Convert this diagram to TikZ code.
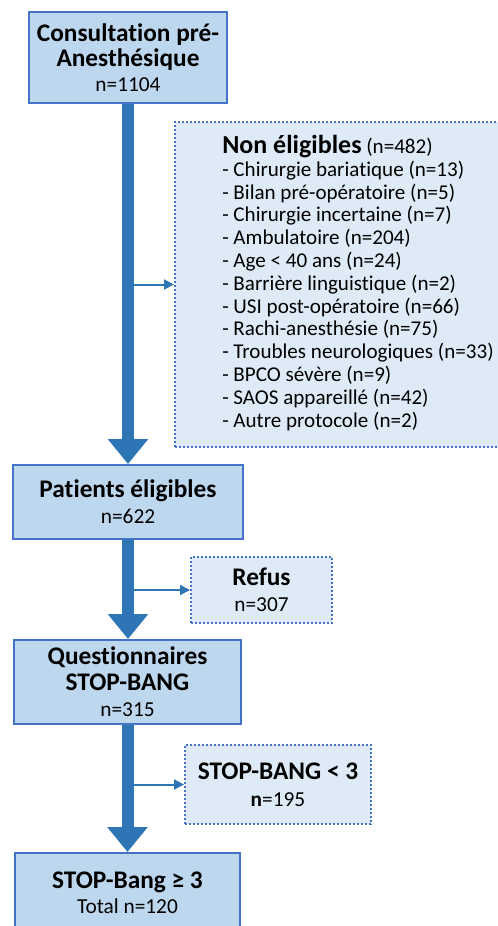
\documentclass[tikz,border=0pt]{standalone}
\usepackage{fontspec}
\setmainfont{Carlito}[Ligatures=NoCommon]
\usetikzlibrary{arrows.meta,positioning}
\definecolor{boxfill}{HTML}{BDD7EE}
\definecolor{boxline}{HTML}{4472C4}
\definecolor{exfill}{HTML}{DEEBF7}
\definecolor{flow}{HTML}{2E75B6}
\newcommand{\ttlfont}{\fontsize{19}{19.5}\selectfont\bfseries}
\newcommand{\nfont}{\fontsize{16}{19.5}\selectfont}
\newcommand{\lstfont}{\fontsize{15.8}{17.1}\selectfont}
\tikzset{
  mainbox/.style={draw=boxline,fill=boxfill,line width=1.5pt,align=center,inner sep=0pt,font=\nfont},
  exbox/.style={draw=boxline,fill=exfill,line width=1.5pt,dash pattern=on 1.5pt off 1.5pt,inner sep=0pt,align=center,font=\nfont},
  bigflow/.style={draw=flow,line width=9pt,-{Triangle[length=18.75pt,width=29.25pt]}},
  sideflow/.style={draw=flow,line width=1.5pt,-{Triangle[length=7.5pt,width=7.5pt]}}
}

\begin{document}
\begin{tikzpicture}[x=0.75pt,y=-0.75pt]
\useasboundingbox (0,0) rectangle (498,926);
% main column
\node[mainbox,minimum width=148.5pt,minimum height=68.25pt,font=\fontsize{16}{18.75}\selectfont] (cpa) at (128,57.5)
  {{\ttlfont Consultation pré-}\\{\ttlfont Anesthésique}\\n=1104};
\node[mainbox,minimum width=172.5pt,minimum height=55.5pt] (elig) at (128,502)
  {{\ttlfont Patients éligibles}\\n=622};
\node[mainbox,minimum width=170.25pt,minimum height=63pt] (quest) at (127.5,682)
  {{\ttlfont Questionnaires}\\{\ttlfont STOP-BANG}\\n=315};
\node[mainbox,minimum width=168.75pt,minimum height=59.25pt] (sb3) at (127.5,892.5)
  {{\ttlfont STOP-Bang ≥ 3}\\[-1pt]Total n=120};
% exclusions
\node[exbox,minimum width=247.5pt,minimum height=243.75pt] (nonelig) at (340,284.5) {};
\node[anchor=north west,align=left,inner sep=0pt,font=\lstfont] (neltxt) at (222,135)
  {{\fontsize{19.5}{17.1}\selectfont\bfseries Non éligibles} (n=482)\\
   - Chirurgie bariatique (n=13)\\
   - Bilan pré-opératoire (n=5)\\
   - Chirurgie incertaine (n=7)\\
   - Ambulatoire (n=204)\\
   - Age < 40 ans (n=24)\\
   - Barrière linguistique (n=2)\\
   - USI post-opératoire (n=66)\\
   - Rachi-anesthésie (n=75)\\
   - Troubles neurologiques (n=33)\\
   - BPCO sévère (n=9)\\
   - SAOS appareillé (n=42)\\
   - Autre protocole (n=2)};
\node[exbox,minimum width=105.75pt,minimum height=49.5pt] (refus) at (261.5,590)
  {{\ttlfont Refus}\\n=307};
\node[exbox,minimum width=139.5pt,minimum height=59.25pt] (sblow) at (278,784.5)
  {{\ttlfont STOP-BANG < 3}\\[1pt]\textbf{n}=195};
% arrows
\draw[sideflow] (cpa.south |- nonelig.west) -- (nonelig.west);
\draw[sideflow] (elig.south |- refus.west) -- (refus.west);
\draw[sideflow] (quest.south |- sblow.west) -- (sblow.west);
\draw[bigflow] (cpa.south) -- (elig.north);
\draw[bigflow] (elig.south) -- (elig.south |- quest.north);
\draw[bigflow] (quest.south) -- (quest.south |- sb3.north);
\end{tikzpicture}
\end{document}
